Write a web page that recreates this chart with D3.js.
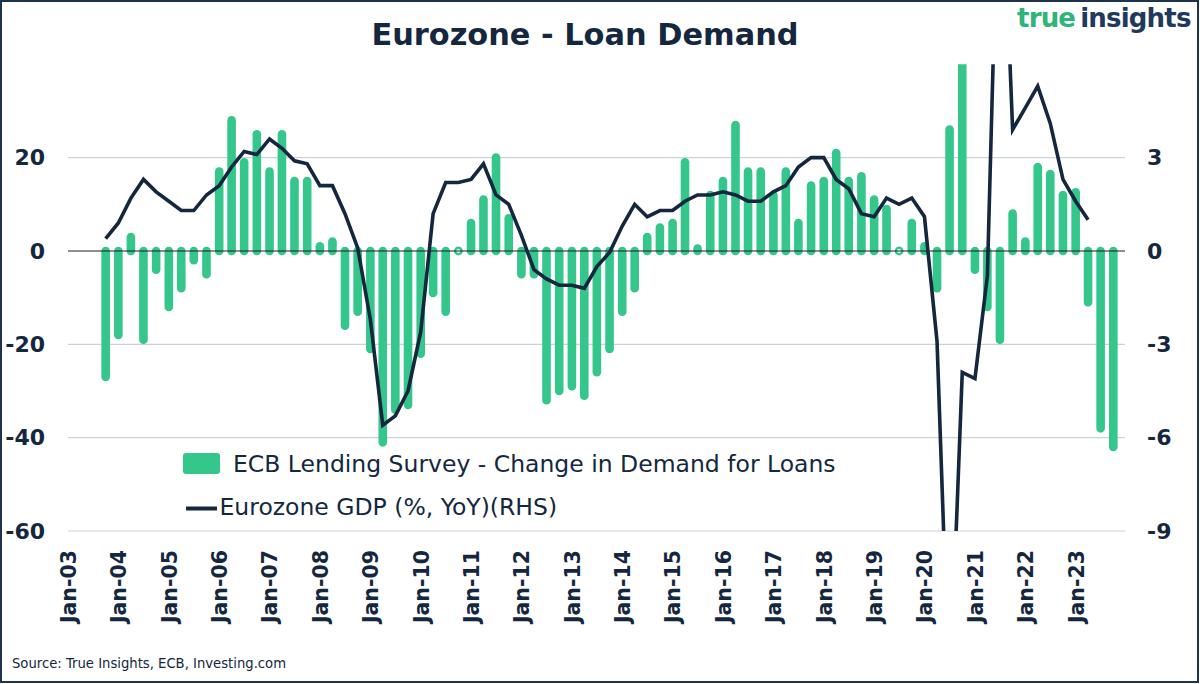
<!DOCTYPE html>
<html><head><meta charset="utf-8">
<script src="https://cdn.jsdelivr.net/npm/d3@7"></script>
<style>html,body{margin:0;padding:0;background:#fff;} svg{display:block;}</style>
</head><body>
<svg id="chart" width="1200" height="684"></svg>
<script>
// ---- DATA ----
const quarters = ["2003-10",
 "2004-01","2004-04","2004-07","2004-10","2005-01","2005-04","2005-07","2005-10",
 "2006-01","2006-04","2006-07","2006-10","2007-01","2007-04","2007-07","2007-10",
 "2008-01","2008-04","2008-07","2008-10","2009-01","2009-04","2009-07","2009-10",
 "2010-01","2010-04","2010-07","2010-10","2011-01","2011-04","2011-07","2011-10",
 "2012-01","2012-04","2012-07","2012-10","2013-01","2013-04","2013-07","2013-10",
 "2014-01","2014-04","2014-07","2014-10","2015-01","2015-04","2015-07","2015-10",
 "2016-01","2016-04","2016-07","2016-10","2017-01","2017-04","2017-07","2017-10",
 "2018-01","2018-04","2018-07","2018-10","2019-01","2019-04","2019-07","2019-10",
 "2020-01","2020-04","2020-07","2020-10","2021-01","2021-04","2021-07","2021-10",
 "2022-01","2022-04","2022-07","2022-10","2023-01","2023-04","2023-07","2023-10"];

// ECB Lending Survey - Change in Demand for Loans (net %, left axis)
const loanDemand = [-27,
 -18, 3, -19, -4, -12, -8, -2, -5,
 17, 28, 19, 25, 17, 25, 15, 15,
 1, 2, -16, -13, -21, -41, -34, -33,
 -22, -9, -13, 0, 6, 11, 20, 7,
 -5, -5, -32, -30, -29, -31, -26, -21,
 -13, -8, 3, 5, 6, 19, 0.5, 12,
 15, 27, 17, 17, 12, 17, 6, 14,
 15, 21, 15, 16, 11, 9, 0, 6,
 1, -8, 26, 60, -4, -12, -19, 8,
 2, 18, 16.5, 12, 12.6, -11, -38, -42];

// Eurozone GDP (%, YoY) (right axis)
const gdpYoY = [0.4,
 0.9, 1.7, 2.3, 1.9, 1.6, 1.3, 1.3, 1.8,
 2.1, 2.7, 3.2, 3.1, 3.6, 3.3, 2.9, 2.8,
 2.1, 2.1, 1.2, 0.1, -2.2, -5.6, -5.3, -4.5,
 -2.6, 1.2, 2.2, 2.2, 2.3, 2.8, 1.8, 1.5,
 0.5, -0.6, -0.9, -1.1, -1.1, -1.2, -0.5, -0.05,
 0.8, 1.5, 1.1, 1.3, 1.3, 1.6, 1.8, 1.8,
 1.9, 1.8, 1.6, 1.6, 1.9, 2.1, 2.7, 3.0,
 3.0, 2.3, 2.0, 1.2, 1.1, 1.7, 1.5, 1.7,
 1.1, -2.9, -14.5, -3.9, -4.1, -0.8, 14.2, 3.9,
 4.6, 5.3, 4.1, 2.3, 1.6, 1.0];

const leftTicks = [-60, -40, -20, 0, 20];
const rightTicks = [-9, -6, -3, 0, 3];
const xTickYears = [2003,2004,2005,2006,2007,2008,2009,2010,2011,2012,2013,2014,2015,2016,2017,2018,2019,2020,2021,2022,2023];
const titleText = "Eurozone - Loan Demand";
const sourceText = "Source: True Insights, ECB, Investing.com";
const legendLabels = ["ECB Lending Survey - Change in Demand for Loans", "Eurozone GDP (%, YoY)(RHS)"];

// ---- STYLE ----
const GREEN = "#34c68b", NAVY = "#14273e", GRID = "#cdd2d8";
const FONT = "'DejaVu Sans', sans-serif";

const svg = d3.select("#chart").style("font-family", FONT);
const parse = d3.timeParse("%Y-%m");
const dates = quarters.map(parse);

const x = d3.scaleTime().domain([new Date(2003,0,1), new Date(2024,0,1)]).range([68, 1126]);
const yL = d3.scaleLinear().domain([-60, 40]).range([531, 64.3]);
const yR = d3.scaleLinear().domain([-9, 6]).range([531, 64.3]);

// background + border
svg.append("rect").attr("x",0).attr("y",0).attr("width",1200).attr("height",684).attr("fill","#fff");
svg.append("rect").attr("x",1).attr("y",1).attr("width",1197).attr("height",681)
  .attr("fill","none").attr("stroke","#1e3350").attr("stroke-width",2);

svg.append("defs").append("clipPath").attr("id","plotclip")
  .append("rect").attr("x",55).attr("y",64.3).attr("width",1085).attr("height",531-64.3);

// gridlines
svg.append("g").selectAll("line").data(leftTicks.filter(t => t !== 0)).join("line")
  .attr("x1",68).attr("x2",1125).attr("y1",d=>yL(d)).attr("y2",d=>yL(d))
  .attr("stroke",GRID).attr("stroke-width",1.2);

// bars
const barData = quarters.map((q,i)=>({date:dates[i], v:loanDemand[i]}));
const gBars = svg.append("g").attr("clip-path","url(#plotclip)");
gBars.selectAll("line").data(barData.filter(d=>d.v!==0)).join("line")
  .attr("x1",d=>x(d.date)).attr("x2",d=>x(d.date))
  .attr("y1",yL(0)).attr("y2",d=>yL(d.v))
  .attr("stroke",GREEN).attr("stroke-width",8.6).attr("stroke-linecap","round");
gBars.selectAll("circle").data(barData.filter(d=>d.v===0)).join("circle")
  .attr("cx",d=>x(d.date)).attr("cy",yL(0)).attr("r",3.2)
  .attr("fill","#fff").attr("stroke",GREEN).attr("stroke-width",2.4);

// zero line
svg.append("line").attr("x1",68).attr("x2",1125).attr("y1",yL(0)).attr("y2",yL(0))
  .attr("stroke","#1b1e24").attr("stroke-width",1.1);

// GDP line
const lineData = gdpYoY.map((v,i)=>({date:dates[i], v}));
svg.append("path").datum(lineData).attr("clip-path","url(#plotclip)")
  .attr("d", d3.line().x(d=>x(d.date)).y(d=>yR(d.v)))
  .attr("fill","none").attr("stroke",NAVY).attr("stroke-width",3.6).attr("stroke-linejoin","miter");

// axes
const axL = svg.append("g").attr("transform","translate(45,0)")
  .call(d3.axisLeft(yL).tickValues(leftTicks).tickSize(0).tickPadding(0).tickFormat(d3.format("d")));
const axR = svg.append("g").attr("transform","translate(1147,0)")
  .call(d3.axisRight(yR).tickValues(rightTicks).tickSize(0).tickPadding(0).tickFormat(d3.format("d")));
[axL, axR].forEach(a => {
  a.select(".domain").remove();
  a.selectAll("text").attr("font-family",FONT).attr("font-size",22).attr("font-weight","bold").attr("fill",NAVY)
    .text(function(){ return this.textContent.replace("−","-"); });
});

const axB = svg.append("g").attr("transform","translate(0,531)")
  .call(d3.axisBottom(x).tickValues(xTickYears.map(y=>new Date(y,0,1))).tickSize(0).tickFormat(d3.timeFormat("%b-%y")));
axB.select(".domain").remove();
axB.selectAll("text").attr("font-family",FONT).attr("font-size",20.5).attr("font-weight","bold").attr("fill",NAVY)
  .attr("transform","rotate(-90)").attr("x",-19).attr("y",0).attr("dy","0.36em").style("text-anchor","end");

// title
svg.append("text").attr("x",585).attr("y",45).attr("text-anchor","middle")
  .attr("font-size",30.4).attr("font-weight","bold").attr("fill",NAVY).text(titleText);

// logo
const logo = svg.append("text").attr("x",1017).attr("y",27).attr("font-size",26).attr("font-weight","bold").attr("letter-spacing",-0.8);
logo.append("tspan").attr("fill","#2fb47b").text("true");
logo.append("tspan").attr("fill","#1f3a5c").attr("dx",5).text("insights");

// legend
svg.append("rect").attr("x",183).attr("y",453).attr("width",37).attr("height",21).attr("rx",3).attr("fill",GREEN);
svg.append("text").attr("x",233).attr("y",472).attr("font-size",23.5).attr("fill",NAVY).text(legendLabels[0]);
svg.append("line").attr("x1",186).attr("x2",217).attr("y1",508.5).attr("y2",508.5).attr("stroke",NAVY).attr("stroke-width",4);
svg.append("text").attr("x",219.5).attr("y",515).attr("font-size",23.5).attr("fill",NAVY).text(legendLabels[1]);

// source
svg.append("text").attr("x",12).attr("y",668).attr("font-size",13.2).attr("fill",NAVY).text(sourceText);
</script>
</body></html>
